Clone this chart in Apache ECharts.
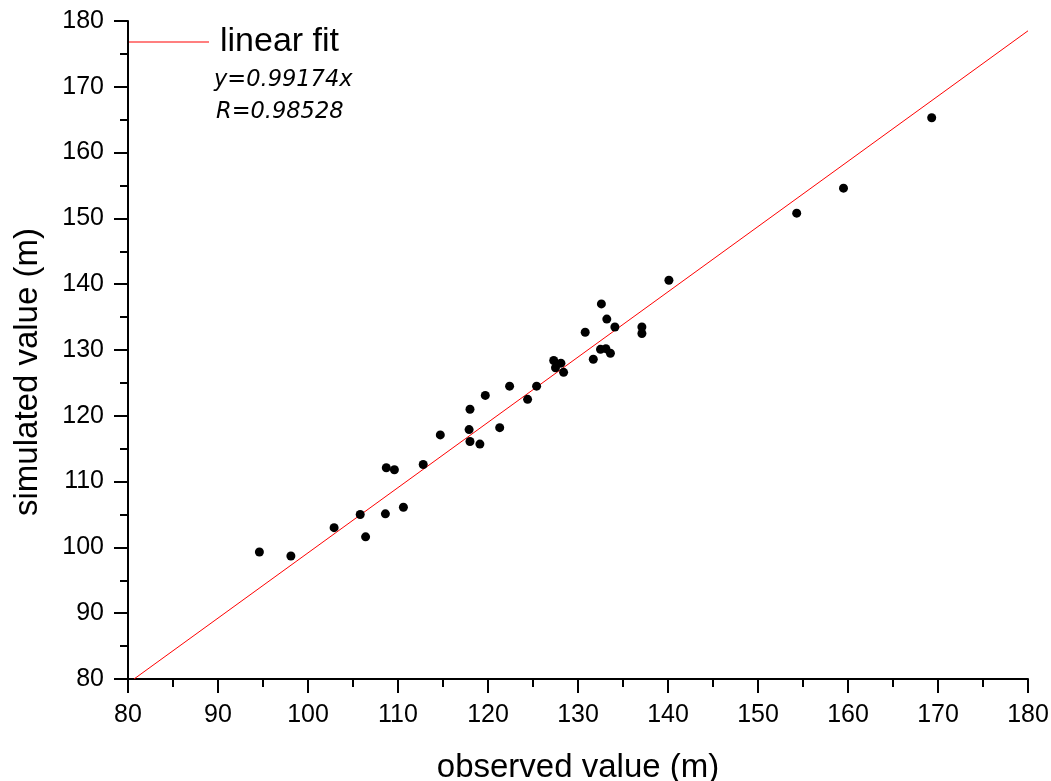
<!DOCTYPE html>
<html>
<head>
<meta charset="utf-8">
<script src="https://cdn.jsdelivr.net/npm/echarts@6/dist/echarts.min.js"></script>
<style>
html,body{margin:0;padding:0;background:#fff;}
#chart{width:1051px;height:781px;}
</style>
</head>
<body>
<div id="chart"></div>
<script>
// observed (x) and simulated (y) values in metres
var observed = [94.6, 98.1, 102.9, 105.8, 106.4, 108.7, 109.6, 108.6, 110.6, 112.8,
  114.7, 117.9, 118.0, 118.0, 119.1, 119.7, 121.3, 122.4, 124.4, 125.4,
  127.3, 128.1, 127.5, 128.4, 130.8, 131.7, 132.6, 133.2, 134.1, 132.5,
  133.1, 133.6, 137.1, 137.1, 140.1, 154.3, 159.5, 169.3];
var simulated = [99.3, 98.7, 103.0, 105.0, 101.6, 112.1, 111.8, 105.1, 106.1, 112.6,
  117.1, 117.9, 121.0, 116.1, 115.7, 123.1, 118.2, 124.5, 122.5, 124.5,
  128.4, 128.0, 127.3, 126.6, 132.7, 128.6, 137.0, 134.7, 133.5, 130.1,
  130.2, 129.5, 133.5, 132.5, 140.6, 150.8, 154.6, 165.3];
// linear fit y = 0.99174x, endpoints across the plot range
var fitX = [80.67, 180];
var fitY = [80.0, 178.51];
var fitLabel = 'y=0.99174x';
var rLabel = 'R=0.98528';
var xTicks = [80, 90, 100, 110, 120, 130, 140, 150, 160, 170, 180];
var yTicks = [80, 90, 100, 110, 120, 130, 140, 150, 160, 170, 180];

var points = observed.map(function (x, i) { return [x, simulated[i]]; });
var fitLine = fitX.map(function (x, i) { return [x, fitY[i]]; });
var FONT = 'Arial, "Liberation Sans", sans-serif';
var OBL = '"DejaVu Sans", sans-serif';

var chart = echarts.init(document.getElementById('chart'), null, {renderer: 'canvas'});
var axisCommon = {
  min: 80, max: 180, interval: 10,
  axisLine: {show: true, onZero: false, lineStyle: {color: '#000', width: 2}},
  axisTick: {show: true, inside: false, length: 14, lineStyle: {color: '#000', width: 2}},
  minorTick: {show: true, splitNumber: 2, length: 8, lineStyle: {color: '#000', width: 2}},
  splitLine: {show: false},
  axisLabel: {color: '#000', fontSize: 25, fontFamily: FONT},
  nameLocation: 'middle',
  nameTextStyle: {color: '#000', fontSize: 33, fontFamily: FONT}
};
chart.setOption({
  animation: false,
  backgroundColor: '#fff',
  grid: {left: 128, right: 23, top: 21, bottom: 102, containLabel: false, outerBoundsMode: 'none'},
  xAxis: Object.assign({}, axisCommon, {
    type: 'value', name: 'observed value (m)', nameGap: 72,
    axisLabel: Object.assign({}, axisCommon.axisLabel, {margin: 24})
  }),
  yAxis: Object.assign({}, axisCommon, {
    type: 'value', name: 'simulated value (m)', nameGap: 84,
    nameTextStyle: Object.assign({}, axisCommon.nameTextStyle, {padding: [0, 44, 0, 0]}),
    axisLabel: Object.assign({}, axisCommon.axisLabel, {margin: 24})
  }),
  legend: {
    show: true, left: 129, top: 25, orient: 'vertical', padding: 0,
    icon: 'rect', itemWidth: 80, itemHeight: 1,
    data: ['linear fit'],
    textStyle: {color: '#000', fontSize: 34, fontFamily: FONT, padding: [0, 0, 0, 6]}
  },
  graphic: [
    {type: 'text', x: 214, y: 80, style: {text: fitLabel, fill: '#000', font: 'italic 22.5px ' + OBL, verticalAlign: 'middle', textVerticalAlign: 'middle'}},
    {type: 'text', x: 216, y: 112, style: {text: rLabel, fill: '#000', font: 'italic 22.5px ' + OBL, verticalAlign: 'middle', textVerticalAlign: 'middle'}}
  ],
  series: [
    {
      name: 'data', type: 'scatter', data: points, symbol: 'circle', symbolSize: 9,
      itemStyle: {color: '#000', opacity: 1}, z: 3
    },
    {
      name: 'linear fit', type: 'line', data: fitLine, showSymbol: false, symbol: 'none',
      lineStyle: {color: '#ff0000', width: 1}, itemStyle: {color: '#ff0000'}, clip: true, z: 2
    }
  ]
});
</script>
</body>
</html>
